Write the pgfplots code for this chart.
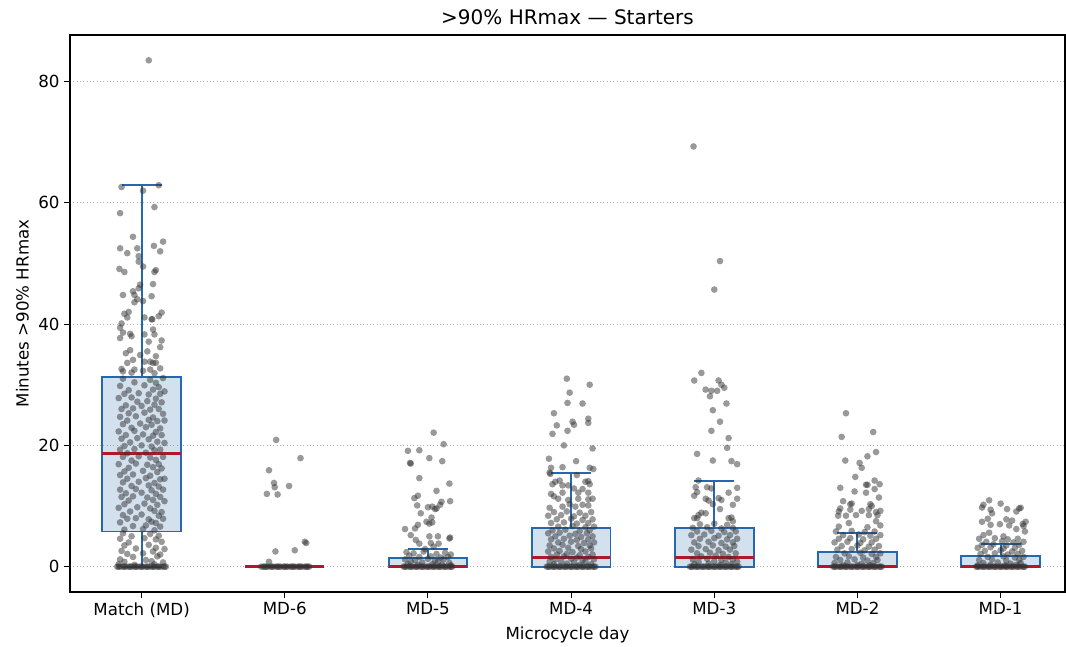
\documentclass[border=0pt]{standalone}
\usepackage{fontspec}
\setmainfont{DejaVu Sans}
\usepackage{pgfplots}
\usepgfplotslibrary{statistics}
\pgfplotsset{compat=1.18}
\definecolor{boxblue}{HTML}{2468B0}
\definecolor{medred}{HTML}{B2182B}
\definecolor{ptgray}{HTML}{333333}
\pgfplotsset{
  pts/.style={only marks, mark=*, mark size=2.4pt, color=ptgray, mark options={fill=ptgray, fill opacity=0.5, draw opacity=0, line width=0pt}},
  bx/.style={boxblue, line width=1.4pt, fill=boxblue, fill opacity=0.2, draw opacity=1,
    boxplot/draw direction=y,
    boxplot/box extend=0.55, boxplot/whisker extend=0.28,
    boxplot/every median/.style={draw=medred, line width=1.9pt}},
}
\begin{document}
\begin{tikzpicture}
\begin{axis}[
  scale only axis, width=716.4pt, height=401pt,
  xmin=-0.5, xmax=6.45, ymin=-4.175, ymax=87.675,
  xtick={0,1,2,3,4,5,6},
  xticklabels={Match (MD),MD-6,MD-5,MD-4,MD-3,MD-2,MD-1},
  ytick={0,20,40,60,80},
  tick align=outside, tick pos=left, major tick length=4pt,
  every tick/.style={black, line width=0.8pt},
  axis line style={line width=0.8pt},
  ymajorgrids, grid style={dotted, black!30, line width=0.8pt},
  /pgf/number format/assume math mode=true,
  tick label style={font=\fontsize{12}{14}\selectfont},
  label style={font=\fontsize{12}{14}\selectfont},
  title style={font=\fontsize{14.4}{17}\selectfont, yshift=-2.5pt},
  title={>90\% HRmax — Starters},
  xlabel={Microcycle day},
  ylabel={Minutes >90\% HRmax},
]
% ---------- Match (MD)
\addplot[pts] table[row sep=\\, x expr=\thisrow{d}+0, y=v] {d v\\
0.05 83.5\\ -0.14 62.6\\ 0.12 62.9\\ 0.01 62.0\\ -0.15 58.3\\ 0.09 59.3\\ -0.06 54.4\\ 0.15 53.6\\ -0.15 52.5\\ 0.086 52.9\\ -0.10 51.7\\ -0.03 52.5\\ 0.13 52.0\\ -0.02 51.2\\ -0.02 50.3\\ -0.155 49.1\\ -0.12 48.6\\ 0.01 49.5\\ 0.10 48.9\\ 0.09 48.6\\ 0.08 46.6\\ -0.01 46.5\\ -0.02 45.9\\ -0.06 45.4\\ -0.13 44.8\\ -0.05 44.8\\ 0.07 44.6\\ -0.03 44.1\\ 0.01 43.8\\ -0.05 43.6\\ -0.12 41.7\\ -0.09 42.0\\ 0.14 41.9\\ 0.12 41.3\\ -0.10 41.1\\ 0.02 41.1\\ 0.07 40.8\\ 0.075 40.8\\ -0.14 40.1\\ -0.15 39.4\\ 0.08 39.1\\ -0.13 38.6\\ -0.08 38.4\\ 0.09 38.3\\ -0.15 37.7\\ -0.07 38.0\\ 0.02 38.3\\ 0.14 37.3\\ 0.05 37.1\\ 0.13 36.2\\ -0.11 35.2\\ -0.08 35.7\\ 0.04 35.5\\ 0.10 34.7\\ -0.01 34.9\\ -0.06 34.1\\ 0.02 33.8\\ 0.06 33.8\\ 0.08 33.6\\ -0.10 33.6\\ 0.10 33.6\\ -0.14 32.6\\ 0.13 32.7\\ -0.05 32.5\\ 0.01 32.3\\ 0.06 32.5\\ 0.09 31.9\\ -0.07 32.0\\ -0.13 32.2\\
-0.13 31.0\\ 0.06 30.8\\ 0.15 31.1\\ -0.05 30.4\\ 0.10 30.3\\ -0.15 29.8\\ 0.02 29.9\\ 0.12 29.6\\ -0.09 29.1\\ 0.08 29.2\\ 0.16 28.9\\ -0.12 28.5\\ -0.02 28.6\\ 0.05 28.4\\ 0.13 28.5\\ -0.16 27.8\\ -0.07 27.9\\ 0.10 27.7\\ -0.03 27.2\\ 0.04 27.3\\ 0.14 27.1\\ -0.11 26.6\\ 0.00 26.5\\ 0.09 26.7\\ -0.14 26.0\\ -0.06 26.1\\ 0.06 25.9\\ 0.12 26.0\\ -0.09 25.3\\ 0.02 25.4\\ 0.15 25.2\\ -0.15 24.7\\ -0.04 24.8\\ 0.08 24.6\\ -0.10 24.1\\ 0.05 24.2\\ 0.11 24.0\\ 0.16 24.1\\ -0.13 23.5\\ -0.01 23.6\\ 0.07 23.4\\ -0.07 22.9\\ 0.03 23.0\\ 0.13 22.8\\ -0.16 22.3\\ -0.05 22.4\\ 0.10 22.2\\ -0.11 21.7\\ 0.01 21.8\\ 0.08 21.6\\ 0.14 21.7\\ -0.14 21.1\\ -0.03 21.2\\ 0.05 21.0\\ -0.08 20.5\\ 0.11 20.6\\ 0.16 20.4\\ -0.12 19.9\\ 0.00 20.0\\ 0.07 19.8\\ -0.15 19.3\\ -0.05 19.4\\ 0.09 19.2\\ 0.13 19.3\\ -0.10 18.7\\ 0.03 18.8\\ -0.13 18.1\\ -0.02 18.2\\ 0.06 18.0\\ 0.15 18.1\\ -0.07 17.5\\ 0.10 17.6\\ -0.16 16.9\\ -0.04 17.0\\ 0.04 16.8\\ 0.12 16.9\\ -0.09 16.3\\ 0.08 16.4\\ 0.14 16.2\\ -0.12 15.7\\ 0.01 15.8\\ 0.11 15.6\\ -0.15 15.1\\ -0.06 15.2\\ 0.06 15.0\\ -0.10 14.5\\ 0.03 14.6\\ 0.13 14.4\\ 0.16 14.5\\ -0.13 13.9\\ -0.02 14.0\\ 0.09 13.8\\ -0.07 13.3\\ 0.05 13.4\\ 0.12 13.2\\ -0.15 12.7\\ -0.04 12.8\\ 0.07 12.6\\ 0.15 12.7\\ -0.11 12.1\\ 0.00 12.2\\ 0.10 12.0\\ -0.14 11.5\\ -0.06 11.6\\ 0.04 11.4\\ 0.13 11.5\\ -0.09 10.9\\ 0.08 11.0\\ 0.16 10.8\\ -0.12 10.3\\ 0.02 10.4\\ 0.11 10.2\\ -0.16 9.7\\ -0.03 9.8\\ 0.06 9.6\\ -0.08 9.1\\ 0.09 9.2\\ 0.14 9.0\\ -0.13 8.5\\ 0.00 8.6\\ 0.12 8.4\\ -0.10 7.9\\ -0.04 8.0\\ 0.05 7.8\\ 0.15 7.9\\ -0.15 7.3\\ 0.07 7.4\\ 0.10 7.2\\ -0.06 6.7\\ 0.03 6.8\\ 0.13 6.6\\ -0.12 6.1\\ 0.01 6.2\\ 0.09 6.0\\
-0.13 5.5\\ 0.06 5.4\\ -0.07 5.0\\ 0.12 5.1\\ -0.15 4.6\\ 0.02 4.7\\ 0.10 4.5\\ -0.09 4.0\\ 0.14 4.1\\ -0.12 3.5\\ 0.05 3.6\\ -0.04 3.0\\ 0.10 3.1\\ 0.16 2.9\\ -0.14 2.6\\ 0.08 2.5\\ -0.10 2.1\\ 0.01 2.2\\ 0.13 2.0\\ -0.06 1.6\\ 0.11 1.7\\ -0.15 1.2\\ 0.03 1.1\\ -0.12 0.8\\ 0.07 0.9\\ 0.15 0.7\\ -0.16 0.4\\ -0.05 0.3\\ 0.09 0.4\\
-0.17 0\\ -0.15 0\\ -0.13 0\\ -0.11 0\\ -0.09 0\\ -0.07 0\\ -0.05 0\\ -0.03 0\\ -0.01 0\\ 0.01 0\\ 0.03 0\\ 0.05 0\\ 0.07 0\\ 0.09 0\\ 0.11 0\\ 0.13 0\\ 0.15 0\\ 0.17 0\\
-0.16 0\\ -0.12 0\\ -0.08 0\\ -0.04 0\\ 0.00 0\\ 0.04 0\\ 0.08 0\\ 0.12 0\\ 0.16 0\\
};
% ---------- MD-6
\addplot[pts] table[row sep=\\, x expr=\thisrow{d}+1, y=v] {d v\\
-0.06 20.9\\ 0.11 17.9\\ -0.11 15.9\\ -0.075 13.8\\ -0.07 13.1\\ 0.03 13.3\\ -0.125 12.0\\ -0.05 11.9\\ 0.14 4.1\\ 0.15 3.9\\ -0.065 2.5\\ 0.07 2.7\\ -0.11 0.8\\
-0.165 0\\ -0.15 0\\ -0.13 0\\ -0.12 0\\ -0.10 0\\ -0.08 0\\ -0.06 0\\ -0.05 0\\ -0.03 0\\ -0.01 0\\ 0.00 0\\ 0.02 0\\ 0.04 0\\ 0.05 0\\ 0.07 0\\ 0.09 0\\ 0.10 0\\ 0.12 0\\ 0.14 0\\ 0.16 0\\ 0.17 0\\
-0.14 0\\ -0.09 0\\ -0.04 0\\ 0.01 0\\ 0.06 0\\ 0.11 0\\ 0.15 0\\
};
% ---------- MD-5
\addplot[pts] table[row sep=\\, x expr=\thisrow{d}+2, y=v] {d v\\
0.04 22.1\\ 0.11 20.2\\ -0.14 19.1\\ -0.06 19.2\\ -0.12 17.0\\ -0.125 17.1\\ 0.01 17.9\\ 0.10 17.4\\ -0.06 14.6\\ 0.15 13.7\\ 0.06 12.5\\ -0.07 11.7\\ -0.095 11.3\\ 0.155 10.8\\ 0.095 10.7\\ 0.085 10.2\\ -0.075 10.1\\ 0.00 9.8\\ 0.03 9.9\\ 0.05 9.5\\ 0.06 9.6\\ -0.05 8.8\\ 0.025 8.1\\ -0.01 7.4\\ 0.01 7.1\\ 0.03 7.3\\ -0.16 6.2\\ -0.09 6.3\\ -0.07 6.9\\ -0.12 5.2\\ 0.01 5.0\\ 0.07 5.0\\ 0.15 4.65\\ 0.155 4.8\\ -0.085 4.4\\ -0.06 3.8\\ 0.02 3.9\\ 0.075 3.8\\ 0.04 3.3\\ -0.02 2.9\\
-0.15 2.4\\ -0.10 2.2\\ -0.03 2.5\\ 0.06 2.1\\ 0.12 2.3\\ 0.16 2.0\\ -0.13 1.8\\ -0.06 1.6\\ 0.02 1.7\\ 0.09 1.5\\ 0.14 1.6\\ -0.16 1.2\\ -0.09 1.1\\ 0.00 1.3\\ 0.05 1.0\\ 0.11 1.2\\ -0.12 0.8\\ -0.04 0.7\\ 0.07 0.8\\ 0.15 0.6\\ -0.14 0.4\\ -0.07 0.3\\ 0.03 0.4\\ 0.10 0.3\\ 0.16 0.2\\
-0.17 0\\ -0.15 0\\ -0.13 0\\ -0.11 0\\ -0.09 0\\ -0.07 0\\ -0.05 0\\ -0.03 0\\ -0.01 0\\ 0.01 0\\ 0.03 0\\ 0.05 0\\ 0.07 0\\ 0.09 0\\ 0.11 0\\ 0.13 0\\ 0.15 0\\ 0.17 0\\
-0.16 0\\ -0.12 0\\ -0.08 0\\ -0.04 0\\ 0.00 0\\ 0.04 0\\ 0.08 0\\ 0.12 0\\ 0.16 0\\
};
% ---------- MD-4
\addplot[pts] table[row sep=\\, x expr=\thisrow{d}+3, y=v] {d v\\
-0.03 31.0\\ 0.13 30.0\\ -0.01 28.7\\ -0.025 27.0\\ 0.08 26.9\\ -0.12 25.3\\ 0.12 24.4\\ 0.01 23.9\\ 0.02 23.4\\ -0.10 23.3\\ 0.12 23.7\\ -0.025 22.4\\ -0.13 21.9\\ -0.05 20.0\\ 0.15 19.5\\ -0.155 17.8\\ 0.035 17.4\\ -0.14 16.3\\ -0.06 16.4\\ 0.13 16.3\\ 0.155 16.1\\ -0.15 15.5\\ -0.145 15.3\\ 0.12 14.1\\ 0.10 14.0\\ 0.04 15.1\\ -0.11 14.0\\ -0.08 14.2\\ -0.13 13.6\\ 0.13 13.6\\ -0.02 13.4\\ -0.06 13.4\\ 0.02 12.9\\ 0.08 12.8\\ -0.14 12.0\\ -0.12 11.6\\ -0.06 12.2\\ 0.12 12.2\\ 0.05 12.2\\ -0.09 11.2\\ -0.02 11.0\\ 0.05 11.2\\ 0.12 11.1\\ 0.15 11.2\\ -0.01 10.3\\ 0.08 10.2\\ 0.03 9.9\\ -0.06 9.9\\ -0.15 9.7\\ 0.12 10.1\\
-0.12 9.0\\ -0.03 9.1\\ 0.06 8.9\\ 0.14 9.0\\ -0.16 8.4\\ -0.07 8.5\\ 0.02 8.3\\ 0.10 8.4\\ -0.10 7.8\\ 0.00 7.9\\ 0.08 7.7\\ 0.15 7.8\\ -0.14 7.2\\ -0.05 7.3\\ 0.04 7.1\\ 0.12 7.2\\ -0.09 6.6\\ 0.01 6.7\\ 0.10 6.5\\ 0.16 6.6\\ -0.13 6.0\\ -0.04 6.1\\ 0.06 5.9\\ 0.13 6.0\\ -0.16 5.5\\ -0.08 5.6\\ 0.03 5.4\\ 0.11 5.5\\ -0.11 5.0\\ -0.01 5.1\\ 0.07 4.9\\ 0.15 5.0\\ -0.14 4.5\\ -0.05 4.6\\ 0.04 4.4\\ 0.12 4.5\\ -0.09 4.0\\ 0.00 4.1\\ 0.09 3.9\\ 0.16 4.0\\ -0.15 3.5\\ -0.06 3.6\\ 0.05 3.4\\ 0.13 3.5\\ -0.12 3.0\\ -0.02 3.1\\ 0.07 2.9\\ 0.14 3.0\\ -0.16 2.5\\ -0.08 2.6\\ 0.01 2.4\\ 0.10 2.5\\ -0.10 2.0\\ -0.03 2.1\\ 0.06 1.9\\ 0.15 2.0\\ -0.14 1.6\\ -0.05 1.7\\ 0.04 1.5\\ 0.12 1.6\\ -0.11 1.2\\ 0.00 1.3\\ 0.08 1.1\\ 0.16 1.2\\ -0.15 0.8\\ -0.07 0.9\\ 0.02 0.7\\ 0.10 0.8\\ -0.12 0.4\\ -0.03 0.5\\ 0.06 0.3\\ 0.14 0.4\\
-0.17 0\\ -0.15 0\\ -0.13 0\\ -0.11 0\\ -0.09 0\\ -0.07 0\\ -0.05 0\\ -0.03 0\\ -0.01 0\\ 0.01 0\\ 0.03 0\\ 0.05 0\\ 0.07 0\\ 0.09 0\\ 0.11 0\\ 0.13 0\\ 0.15 0\\ 0.17 0\\
-0.16 0\\ -0.12 0\\ -0.08 0\\ -0.04 0\\ 0.00 0\\ 0.04 0\\ 0.08 0\\ 0.12 0\\ 0.16 0\\
};
% ---------- MD-3
\addplot[pts] table[row sep=\\, x expr=\thisrow{d}+4, y=v] {d v\\
-0.145 69.3\\ 0.04 50.4\\ 0.00 45.7\\ -0.09 31.95\\ -0.14 30.7\\ 0.03 30.7\\ 0.05 30.0\\ 0.07 29.5\\ -0.06 29.2\\ -0.02 29.0\\ 0.02 29.0\\ -0.03 28.1\\ 0.085 26.9\\ -0.01 25.8\\ 0.04 23.9\\ -0.02 22.4\\ 0.10 21.2\\ 0.09 19.6\\ -0.12 18.6\\ -0.01 17.5\\ 0.12 17.4\\ 0.16 16.9\\ -0.11 14.2\\ 0.16 13.0\\ 0.10 12.2\\ 0.16 11.2\\ 0.13 10.2\\ -0.13 13.1\\ -0.05 13.1\\ -0.02 12.9\\ -0.12 12.3\\ -0.14 11.7\\ -0.06 11.2\\ -0.04 10.9\\ -0.09 8.9\\ -0.06 8.8\\ 0.05 11.0\\ 0.03 11.3\\ -0.01 10.3\\ -0.11 8.5\\ -0.12 8.0\\ -0.14 8.0\\ 0.10 8.0\\ 0.12 8.1\\ 0.13 7.5\\ 0.04 9.5\\
-0.10 7.0\\ 0.00 7.1\\ 0.09 6.9\\ -0.15 6.4\\ -0.05 6.5\\ 0.05 6.3\\ 0.13 6.4\\ -0.12 5.8\\ -0.02 5.9\\ 0.07 5.7\\ 0.15 5.8\\ -0.16 5.2\\ -0.07 5.3\\ 0.03 5.1\\ 0.11 5.2\\ -0.10 4.6\\ 0.00 4.7\\ 0.09 4.5\\ 0.16 4.6\\ -0.14 4.0\\ -0.04 4.1\\ 0.05 3.9\\ 0.13 4.0\\ -0.11 3.4\\ -0.01 3.5\\ 0.08 3.3\\ 0.14 3.4\\ -0.16 2.8\\ -0.06 2.9\\ 0.03 2.7\\ 0.11 2.8\\ -0.12 2.2\\ -0.03 2.3\\ 0.06 2.1\\ 0.15 2.2\\ -0.09 1.7\\ 0.01 1.8\\ 0.10 1.6\\ -0.15 1.2\\ -0.05 1.3\\ 0.05 1.1\\ 0.13 1.2\\ -0.11 0.8\\ 0.00 0.9\\ 0.08 0.7\\ 0.16 0.8\\ -0.14 0.4\\ -0.04 0.5\\ 0.04 0.3\\ 0.12 0.4\\
-0.17 0\\ -0.15 0\\ -0.13 0\\ -0.11 0\\ -0.09 0\\ -0.07 0\\ -0.05 0\\ -0.03 0\\ -0.01 0\\ 0.01 0\\ 0.03 0\\ 0.05 0\\ 0.07 0\\ 0.09 0\\ 0.11 0\\ 0.13 0\\ 0.15 0\\ 0.17 0\\
-0.16 0\\ -0.12 0\\ -0.08 0\\ -0.04 0\\ 0.00 0\\ 0.04 0\\ 0.08 0\\ 0.12 0\\ 0.16 0\\
};
% ---------- MD-2
\addplot[pts] table[row sep=\\, x expr=\thisrow{d}+5, y=v] {d v\\
-0.08 25.3\\ -0.11 21.4\\ 0.11 22.2\\ 0.13 18.9\\ -0.085 17.5\\ 0.07 18.2\\ 0.015 17.1\\ 0.03 16.3\\ -0.015 14.8\\ -0.12 13.0\\ 0.12 14.2\\ 0.155 13.6\\ 0.06 13.5\\ 0.07 13.5\\ -0.02 12.4\\ 0.06 12.2\\ 0.12 12.8\\ 0.15 11.4\\ -0.10 10.8\\ -0.05 10.3\\ -0.04 10.4\\ 0.09 10.3\\ 0.10 10.0\\ -0.12 9.6\\ -0.05 9.4\\ 0.08 9.5\\ 0.03 9.2\\ 0.16 9.2\\ -0.13 9.1\\ 0.13 9.0\\ -0.01 8.5\\ -0.08 8.4\\ -0.135 8.4\\ 0.08 8.5\\ 0.14 8.5\\ 0.13 7.5\\ -0.06 7.2\\ -0.13 6.6\\ 0.16 6.8\\ 0.07 6.5\\
-0.15 5.8\\ -0.04 5.9\\ 0.05 5.7\\ 0.12 5.8\\ -0.10 5.2\\ 0.01 5.3\\ 0.09 5.1\\ 0.16 5.2\\ -0.13 4.6\\ -0.05 4.7\\ 0.04 4.5\\ 0.13 4.6\\ -0.16 4.0\\ -0.07 4.1\\ 0.02 3.9\\ 0.10 4.0\\ -0.11 3.4\\ 0.00 3.5\\ 0.08 3.3\\ 0.15 3.4\\ -0.14 2.8\\ -0.04 2.9\\ 0.05 2.7\\ 0.12 2.8\\ -0.09 2.2\\ 0.02 2.3\\ 0.10 2.1\\ 0.16 2.2\\ -0.15 1.6\\ -0.06 1.7\\ 0.04 1.5\\ 0.13 1.6\\ -0.12 1.1\\ -0.02 1.2\\ 0.07 1.0\\ 0.14 1.1\\ -0.16 0.6\\ -0.07 0.7\\ 0.03 0.5\\ 0.11 0.6\\ -0.10 0.2\\ 0.00 0.3\\ 0.09 0.2\\
-0.17 0\\ -0.15 0\\ -0.13 0\\ -0.11 0\\ -0.09 0\\ -0.07 0\\ -0.05 0\\ -0.03 0\\ -0.01 0\\ 0.01 0\\ 0.03 0\\ 0.05 0\\ 0.07 0\\ 0.09 0\\ 0.11 0\\ 0.13 0\\ 0.15 0\\ 0.17 0\\
-0.16 0\\ -0.12 0\\ -0.08 0\\ -0.04 0\\ 0.00 0\\ 0.04 0\\ 0.08 0\\ 0.12 0\\ 0.16 0\\
};
% ---------- MD-1
\addplot[pts] table[row sep=\\, x expr=\thisrow{d}+6, y=v] {d v\\
-0.08 10.95\\ -0.13 9.75\\ -0.12 10.2\\ 0.00 10.4\\ 0.13 9.6\\ 0.14 9.7\\ 0.11 9.1\\ 0.045 9.5\\ -0.07 9.4\\ -0.06 8.8\\ 0.175 7.4\\ 0.155 7.05\\ 0.16 6.7\\ -0.13 7.4\\ -0.09 7.9\\ 0.04 7.8\\ 0.08 7.6\\ -0.005 7.0\\ -0.07 6.9\\ 0.06 6.8\\ 0.17 5.8\\ -0.08 5.6\\ -0.12 5.2\\ 0.02 5.0\\ 0.11 6.2\\
-0.15 4.6\\ -0.04 4.7\\ 0.05 4.5\\ 0.12 4.6\\ -0.10 4.1\\ 0.01 4.2\\ 0.09 4.0\\ 0.16 4.1\\ -0.13 3.6\\ -0.05 3.7\\ 0.04 3.5\\ 0.13 3.6\\ -0.16 3.1\\ -0.07 3.2\\ 0.02 3.0\\ 0.10 3.1\\ -0.11 2.6\\ 0.00 2.7\\ 0.08 2.5\\ 0.15 2.6\\ -0.14 2.1\\ -0.04 2.2\\ 0.05 2.0\\ 0.12 2.1\\ -0.09 1.6\\ 0.02 1.7\\ 0.10 1.5\\ 0.16 1.6\\ -0.15 1.1\\ -0.06 1.2\\ 0.04 1.0\\ 0.13 1.1\\ -0.12 0.6\\ -0.02 0.7\\ 0.07 0.5\\ 0.14 0.6\\ -0.16 0.2\\ -0.07 0.3\\ 0.03 0.2\\ 0.11 0.3\\
-0.17 0\\ -0.15 0\\ -0.13 0\\ -0.11 0\\ -0.09 0\\ -0.07 0\\ -0.05 0\\ -0.03 0\\ -0.01 0\\ 0.01 0\\ 0.03 0\\ 0.05 0\\ 0.07 0\\ 0.09 0\\ 0.11 0\\ 0.13 0\\ 0.15 0\\ 0.17 0\\
-0.16 0\\ -0.12 0\\ -0.08 0\\ -0.04 0\\ 0.00 0\\ 0.04 0\\ 0.08 0\\ 0.12 0\\ 0.16 0\\
};
% ---------- boxes
\addplot[bx, boxplot prepared={draw position=0, lower whisker=0, lower quartile=5.8, median=18.7, upper quartile=31.3, upper whisker=62.9}] coordinates {};
\addplot[bx, boxplot prepared={draw position=1, lower whisker=0, lower quartile=0, median=0, upper quartile=0, upper whisker=0}] coordinates {};
\addplot[bx, boxplot prepared={draw position=2, lower whisker=0, lower quartile=0, median=0, upper quartile=1.5, upper whisker=2.85}] coordinates {};
\addplot[bx, boxplot prepared={draw position=3, lower whisker=0, lower quartile=0, median=1.46, upper quartile=6.3, upper whisker=15.4}] coordinates {};
\addplot[bx, boxplot prepared={draw position=4, lower whisker=0, lower quartile=0, median=1.46, upper quartile=6.35, upper whisker=14.1}] coordinates {};
\addplot[bx, boxplot prepared={draw position=5, lower whisker=0, lower quartile=0, median=0, upper quartile=2.4, upper whisker=5.5}] coordinates {};
\addplot[bx, boxplot prepared={draw position=6, lower whisker=0, lower quartile=0, median=0, upper quartile=1.7, upper whisker=3.8}] coordinates {};
\end{axis}
\pgfresetboundingbox
\path ([xshift=-50.4pt,yshift=-38.9pt]current axis.south west) rectangle ([xshift=0.7pt,yshift=25.2pt]current axis.north east);
\end{tikzpicture}
\end{document}
